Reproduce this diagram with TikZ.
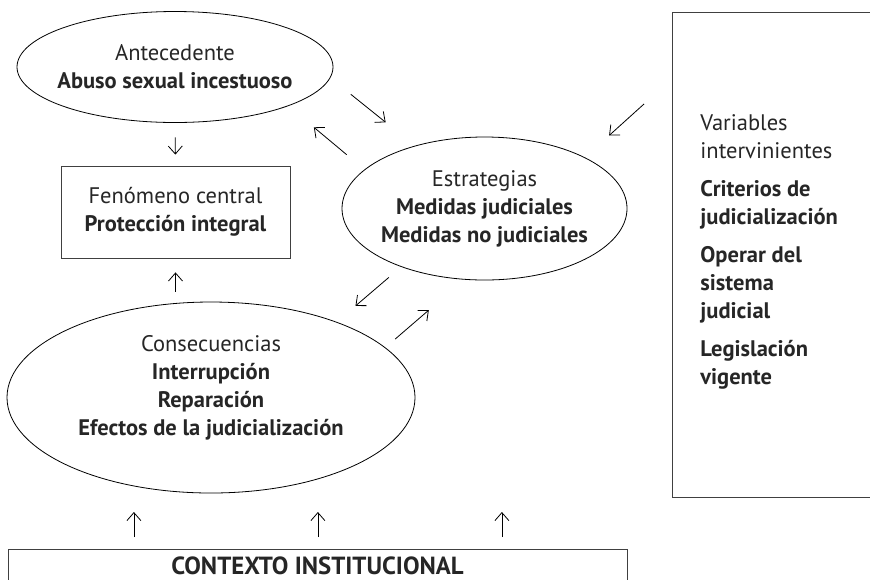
\documentclass[tikz,border=0pt]{standalone}
\usepackage{fontspec}
\setmainfont{PT Sans}
\usetikzlibrary{arrows.meta,shapes.geometric}

\begin{document}
\begin{tikzpicture}[x=0.5pt, y=-0.5pt, thin, >={Straight Barb[length=4pt,width=7pt]},
    every node/.style={font=\fontsize{11.25}{14}\selectfont, text=black!85},
    elli/.style={draw, ellipse, inner sep=0pt},
    txt/.style={align=center, inner sep=0pt},
    frame/.style={draw=black!75, inner sep=0pt}]
  \useasboundingbox (0,0) rectangle (870,579);

  \node[elli, minimum width=158pt, minimum height=55.5pt] (ante) at (175,67) {};
  \node[txt] (anteTxt) at (ante) {Antecedente\\\textbf{Abuso sexual incestuoso}};

  \node[frame, minimum width=114.5pt, minimum height=46pt, align=center] (fen) at (175.5,212)
    {Fenómeno central\\\textbf{Protección integral}};

  \node[elli, minimum width=142.5pt, minimum height=71.5pt] (estr) at (484.5,208.5) {};
  \node[txt] (estrTxt) at (484.5,209) {Estrategias\\\textbf{Medidas judiciales}\\\textbf{Medidas no judiciales}};

  \node[elli, minimum width=204pt, minimum height=95.5pt] (cons) at (211,397.5) {};
  \node[txt] (consTxt) at (211,388) {Consecuencias\\\textbf{Interrupción}\\\textbf{Reparación}\\\textbf{Efectos de la judicialización}};

  % marco de la derecha, abierto por fuera de la pagina
  \node[frame, minimum width=114pt, minimum height=242.5pt, anchor=north west] (vars) at (672,12) {};
  \node[align=left, anchor=north west, inner sep=0pt] (varsTxt) at (700,114)
    {Variables\\intervinientes\\[5pt]
     \textbf{Criterios de}\\\textbf{judicialización}\\[5pt]
     \textbf{Operar del}\\\textbf{sistema}\\\textbf{judicial}\\[5pt]
     \textbf{Legislación}\\\textbf{vigente}};

  \node[frame, minimum width=309.5pt, minimum height=30pt, anchor=north west] (ctx) at (8,549) {};
  \node[anchor=base, inner sep=0pt, font=\fontsize{12.4}{14}\selectfont\bfseries] (ctxTxt) at (317.5,574)
    {CONTEXTO INSTITUCIONAL};

  \draw[->, shorten <=7.25pt, shorten >=5.5pt] (ante.south) -- (fen.north);
  \draw[->, shorten <=5pt, shorten >=7pt] (cons.north -| fen.south) -- (fen.south);

  \draw[->, shorten <=13.1pt, shorten >=18.7pt] (ante.-4.3) -- (estr.138.5);
  \draw[->, shorten <=11.6pt, shorten >=16.6pt] (estr.162) -- (ante.-19.1);
  \draw[->, shorten <=8.1pt, shorten >=12.3pt] (estr.-145.1) -- (cons.31.1);
  \draw[->, shorten <=6.5pt, shorten >=23.3pt] (cons.16.6) -- (estr.-106.2);
  \draw[->, shorten <=18.8pt, shorten >=16.3pt] (vars.123.6) -- (estr.27.7);

  \foreach \dx in {-92,0,92}
    \draw[->] ([xshift=\dx pt, yshift=6pt]ctx.north) -- ++(0,-25);
\end{tikzpicture}
\end{document}
